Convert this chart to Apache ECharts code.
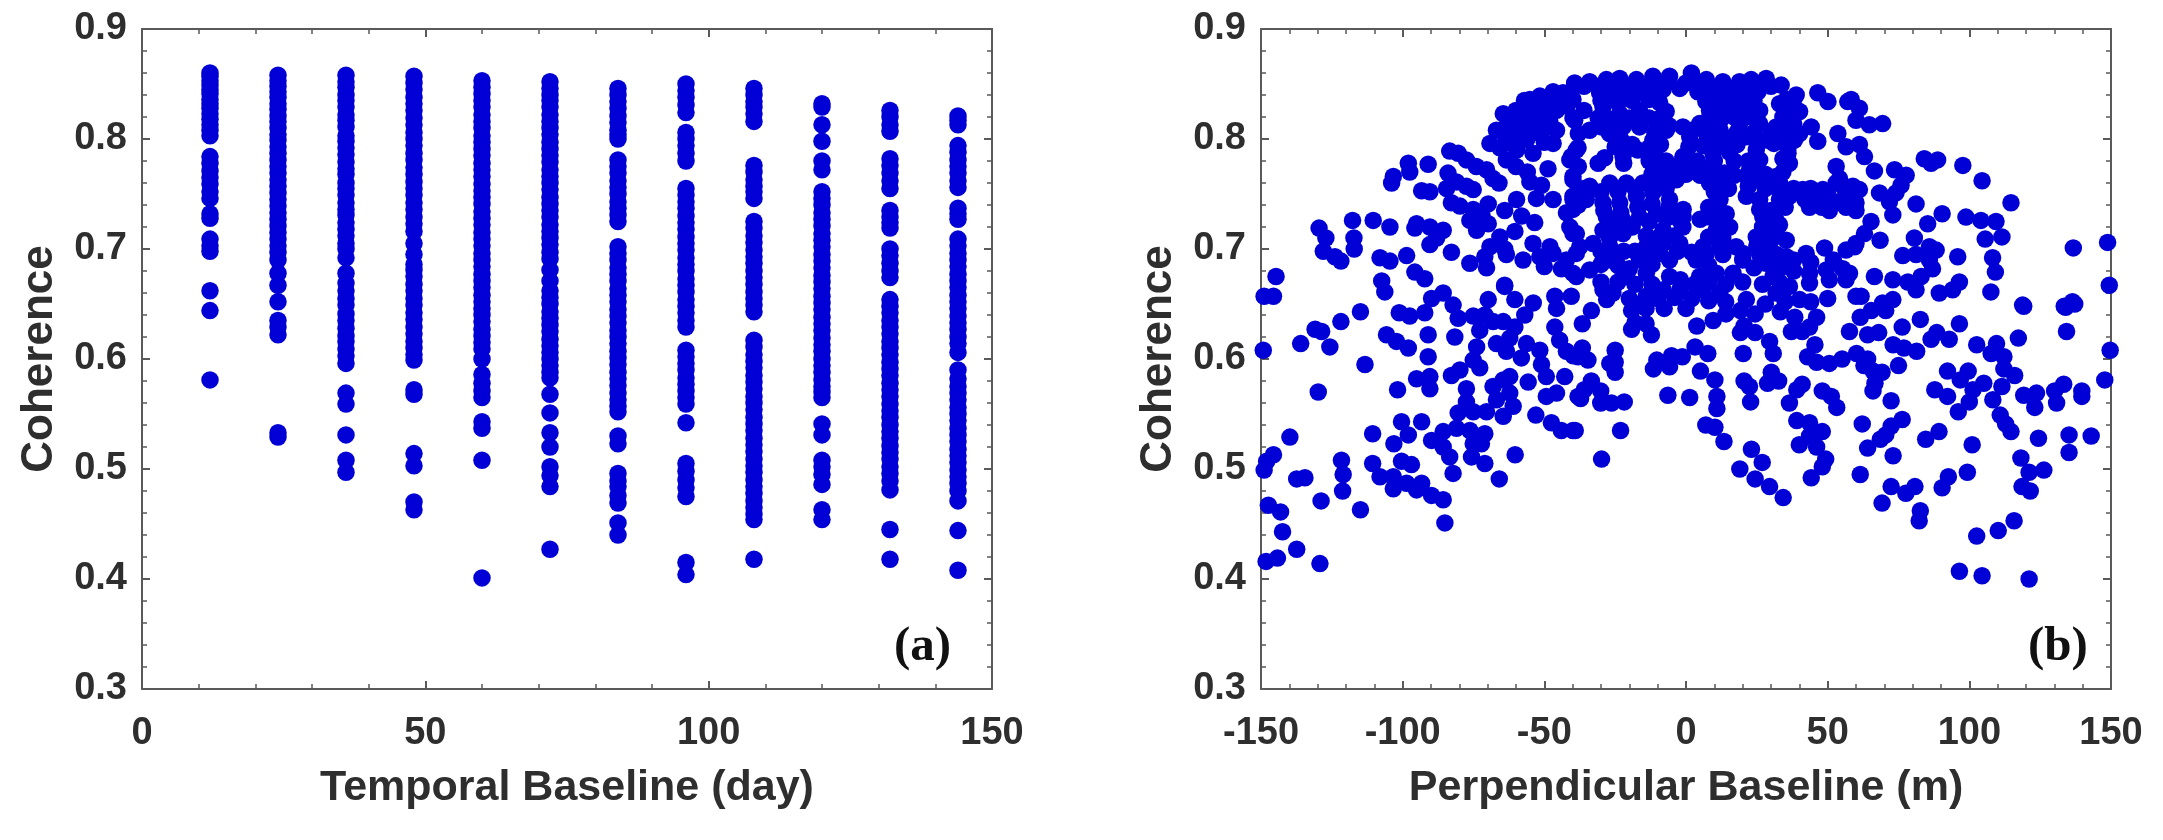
<!DOCTYPE html>
<html>
  <head>
  <meta charset="utf-8">
  <script type="text/javascript" src="https://cdn.jsdelivr.net/npm/echarts@6/dist/echarts.min.js"></script>
  <style>html,body{margin:0;padding:0;background:#fff}</style>
  </head>
 <body>
 <div id="main" style="width:2163px;height:840px;"></div>
 <script type="text/javascript">
// (a) coherence read per acquisition interval
var days = [12, 24, 36, 48, 60, 72, 84, 96, 108, 120, 132, 144];
var coh12 = [.860,.857,.853,.849,.845,.841,.836,.832,.828,.823,.818,.813,.808,.803,.784,.778,.771,.765,.759,.752,.746,.732,.728,.709,.703,.698,.662,.644,.581];
var coh24 = [.858,.853,.848,.843,.838,.832,.827,.821,.816,.810,.804,.799,.793,.787,.781,.775,.769,.763,.757,.751,.745,.739,.733,.727,.721,.715,.709,.703,.697,.690,.678,.667,.652,.635,.629,.622,.533,.529];
var coh36 = [.858,.852,.847,.840,.835,.829,.822,.817,.811,.803,.798,.792,.786,.779,.773,.768,.760,.755,.749,.742,.736,.731,.724,.718,.712,.705,.700,.692,.678,.669,.662,.655,.649,.641,.635,.628,.621,.616,.609,.603,.596,.569,.559,.531,.508,.497];
var coh48 = [.857,.851,.845,.838,.832,.826,.819,.813,.806,.800,.794,.787,.781,.774,.768,.761,.755,.749,.742,.736,.729,.723,.716,.705,.695,.686,.681,.675,.668,.662,.655,.649,.642,.636,.629,.623,.616,.610,.604,.599,.572,.568,.514,.503,.470,.463];
var coh60 = [.853,.847,.841,.835,.829,.822,.816,.810,.803,.797,.791,.785,.778,.772,.766,.759,.753,.747,.741,.734,.728,.722,.715,.709,.703,.696,.690,.684,.677,.671,.665,.658,.652,.646,.640,.634,.627,.621,.615,.609,.600,.586,.578,.571,.565,.543,.537,.508,.401];
var coh72 = [.852,.846,.840,.835,.829,.822,.816,.810,.804,.797,.791,.785,.779,.772,.766,.760,.754,.747,.741,.735,.729,.722,.716,.710,.704,.697,.691,.681,.671,.662,.656,.650,.643,.637,.631,.625,.618,.612,.606,.600,.594,.588,.583,.568,.551,.533,.520,.502,.494,.484,.427];
var coh84 = [.846,.840,.834,.828,.821,.815,.808,.804,.800,.781,.775,.769,.762,.756,.750,.743,.737,.731,.725,.702,.696,.690,.683,.677,.671,.664,.658,.652,.645,.639,.633,.626,.620,.614,.607,.601,.595,.588,.582,.576,.569,.563,.557,.552,.530,.523,.496,.489,.484,.476,.469,.451,.440];
var coh96 = [.850,.844,.838,.831,.824,.806,.800,.794,.787,.780,.755,.749,.743,.737,.730,.724,.718,.711,.705,.699,.692,.686,.680,.673,.667,.661,.654,.648,.642,.635,.629,.608,.602,.596,.590,.583,.577,.571,.565,.559,.542,.505,.498,.490,.483,.475,.415,.404];
var coh108 = [.846,.840,.834,.829,.823,.816,.776,.770,.763,.757,.752,.746,.725,.719,.712,.706,.699,.693,.687,.680,.674,.668,.661,.655,.649,.643,.617,.611,.604,.598,.592,.585,.579,.573,.566,.560,.554,.547,.541,.535,.528,.522,.516,.509,.503,.497,.490,.484,.478,.471,.465,.459,.454,.418];
var coh120 = [.832,.829,.813,.798,.780,.772,.752,.746,.740,.733,.727,.721,.714,.708,.702,.695,.689,.683,.676,.670,.664,.657,.651,.645,.638,.632,.626,.619,.613,.607,.600,.594,.588,.581,.575,.570,.565,.541,.531,.508,.502,.495,.486,.463,.454];
var coh132 = [.826,.820,.813,.807,.782,.776,.769,.762,.755,.735,.729,.724,.719,.700,.694,.687,.680,.674,.654,.648,.642,.635,.629,.623,.616,.610,.604,.597,.591,.585,.578,.572,.566,.559,.553,.547,.540,.534,.528,.521,.515,.509,.502,.496,.489,.481,.445,.418];
var coh144 = [.821,.817,.813,.794,.788,.781,.775,.769,.762,.756,.737,.732,.727,.709,.703,.696,.690,.684,.677,.671,.665,.658,.652,.646,.639,.633,.627,.620,.614,.606,.590,.582,.575,.569,.563,.556,.550,.544,.537,.531,.525,.518,.512,.506,.499,.493,.487,.480,.471,.444,.408];
var tempCoh = [coh12, coh24, coh36, coh48, coh60, coh72, coh84, coh96, coh108, coh120, coh132, coh144];

// (b) [perpendicular baseline, coherence], left flank
var perpLeftUpper = [[-144.7,.675],[-129.5,.719],[-127.1,.710],[-128,.698],[-123.9,.693],[-121.8,.689],[-117.7,.726],[-110.4,.726],[-104.5,.720],[-117.2,.710],[-117.1,.700],[-98.6,.694],[-108,.692],[-104.5,.689],[-95.7,.679],[-92.2,.673],[-107.4,.671],[-82.8,.697],[-95.1,.723],[-95.7,.719],[-90.4,.720],[-85.7,.717],[-88,.710],[-90.4,.704],[-98,.778],[-97.5,.770],[-91,.777],[-103.3,.766],[-103.9,.760],[-93.3,.753],[-90.4,.752],[-83.4,.789],[-80.4,.787],[-77.5,.781],[-74,.775],[-70.4,.772],[-68.1,.764],[-69.2,.796],[-84,.769],[-81,.761],[-84.5,.755],[-77.5,.757],[-75.1,.754],[-82.8,.742],[-79.8,.739],[-75.1,.736],[-69.8,.741],[-76.3,.726],[-73.9,.717],[-69.8,.723],[-59.8,.745],[-53.4,.724],[-60.4,.716],[-65.7,.711],[-69.2,.702],[-71,.693],[-76.3,.687],[-70.4,.683],[-54,.705],[-63.4,.695],[-57.5,.690],[-51.6,.693],[-46.9,.696],[-42.2,.690],[-39.9,.678],[-64,.667],[-55.1,.761],[-51,.758],[-52.8,.746],[-46.9,.745],[-48.7,.773],[-64.5,.823],[-66.9,.808],[-63.4,.799],[-59.8,.790],[-56.3,.799],[-54,.787],[-63.4,.781],[-65.7,.792],[-55.1,.836],[-51.6,.839],[-46.9,.843],[-43.4,.842],[-39.3,.851],[-39.9,.819],[-59.8,.814],[-54,.823],[-49.3,.823],[-45.7,.808],[-46.9,.796],[-51.6,.805],[-38.7,.790],[-41,.781],[-39.9,.766],[-39.9,.736],[-41,.720],[-38.7,.714],[-39.9,.745],[-42.2,.733],[-38.7,.696],[-57.5,.826],[-51.6,.820],[-57.5,.808],[-49.3,.811],[-63.4,.811],[-45.7,.826],[-59.8,.799],
[-60,.826],[-57,.835],[-60,.805],[-54,.810],[-50,.830],[-46,.835],[-42,.830],[-56,.816],[-48,.815],[-50,.797],[-60,.775],[-56,.770],[-72,.730],[-64,.735],[-58,.730],[-64,.700],[-48,.702],[-44,.682],[-50,.684],[-66,.760]];
var perpLeftLower = [[-148.9,.657],[-145.6,.657],[-149.2,.608],[-136,.614],[-130.9,.627],[-128.6,.625],[-125.7,.611],[-121.8,.634],[-114.9,.643],[-113.3,.595],[-129.8,.570],[-139.8,.529],[-145.6,.513],[-148,.507],[-148.9,.499],[-110.6,.532],[-121.6,.508],[-121,.495],[-121.2,.480],[-137.4,.491],[-134.5,.492],[-128.8,.471],[-147.4,.467],[-143.1,.461],[-142.4,.443],[-137.4,.427],[-129.2,.414],[-148.2,.416],[-144.2,.419],[-114.9,.463],[-110.6,.505],[-108,.493],[-103.1,.523],[-100.4,.543],[-98,.531],[-93.3,.543],[-89.8,.526],[-85.7,.534],[-81,.537],[-76.3,.535],[-71,.532],[-85.7,.520],[-83.4,.511],[-75.1,.523],[-72.2,.523],[-82.2,.496],[-75.7,.511],[-71,.505],[-65.9,.491],[-60.3,.513],[-100.4,.507],[-96.9,.504],[-103.3,.493],[-103.3,.482],[-98.6,.487],[-93.3,.487],[-95.1,.481],[-89.8,.476],[-85.7,.472],[-85.1,.451],[-105.7,.622],[-102.2,.616],[-98,.610],[-91,.602],[-95.1,.582],[-90.4,.584],[-90.4,.573],[-101.8,.572],[-101.2,.642],[-97.5,.639],[-106.3,.661],[-81.6,.620],[-91,.622],[-92.2,.642],[-89.8,.655],[-85.7,.660],[-82.2,.649],[-80.4,.637],[-75.1,.639],[-69.8,.654],[-71,.640],[-64,.666],[-60.4,.654],[-53.9,.651],[-56.9,.640],[-60.4,.629],[-64.5,.634],[-68.1,.634],[-72.8,.626],[-73.9,.611],[-66.9,.614],[-62.2,.619],[-63.4,.607],[-58.1,.601],[-56.3,.614],[-51.6,.608],[-51,.595],[-72.8,.592],[-75.1,.599],[-79.8,.590],[-82.8,.585],[-77.5,.573],[-77.5,.561],[-80.4,.551],[-75.1,.552],[-70.4,.552],[-64.5,.548],[-61,.557],[-62.2,.569],[-64.5,.581],[-68.1,.575],[-62.2,.584],[-66.9,.563],[-55.7,.579],[-49.3,.584],[-42.8,.584],[-49.3,.566],[-45.7,.569],[-53,.549],[-47.5,.542],[-44,.535],[-39.9,.535],[-46.3,.657],[-40.5,.657],[-45.7,.646],[-46.3,.629],[-44.6,.617],[-42.2,.607],[-38.1,.602],[-38.1,.566]];
// (b) centre of the arch
var perpCentre = [[-39.3,.849],[-34,.852],[-28.1,.854],[-23.4,.855],[-17.5,.854],[-11.7,.857],[-5.8,.857],[1.9,.860],[7.2,.854],[13,.852],[18.9,.852],[23,.854],[28.3,.855],[33.6,.849],[38.9,.840],[46.5,.842],[50.1,.834],[57.1,.834],
[-39.9,.836],[-30.5,.842],[-25.8,.840],[-21,.842],[-15.8,.843],[-8.1,.845],[-2.2,.846],[4.2,.843],[9.5,.840],[14.2,.840],[21.3,.840],[25.4,.843],[35.4,.836],[40.1,.825],
[-29.3,.829],[-23.4,.823],[-16.4,.826],[-9.3,.833],[-7,.825],[8.3,.826],[13.6,.826],[20.7,.828],[26,.826],[34.2,.820],
[-39.3,.817],[-34,.808],[-29.9,.811],[-22.2,.811],[-16.4,.811],[-7,.808],[-1.1,.811],[4.8,.814],[11.9,.816],[18.9,.814],[26,.814],[31.8,.811],[44.2,.811],[40.1,.805],[38.3,.799],[46.5,.798],[53.6,.805],
[-22.8,.799],[-11.7,.799],[1.3,.802],[8.3,.799],[14.2,.801],[21.3,.802],[28.3,.799],[35.4,.805],[56.5,.793],
[-38.1,.792],[-40.5,.784],[-31,.778],[-28.7,.783],[-22.2,.784],[-17,.790],[-11.1,.785],[-1.1,.784],[9.5,.787],[15.4,.788],[24.8,.790],
[-10.5,.775],[.1,.775],[8.3,.772],[13.6,.769],[22.4,.772],[34.2,.782],[34.2,.770],[36.5,.778],[53,.775],[54.2,.764],
[-39.9,.763],[-34,.757],[-26.9,.760],[-21,.760],[-15.2,.760],[-9.3,.763],[-3.4,.763],[8.3,.760],[11.9,.760],[21.3,.766],[26,.763],[31.8,.766],[41.2,.754],[48.3,.754],[53,.760],[58.9,.757],
[-39.9,.748],[-35.2,.745],[-29.3,.742],[-23.4,.742],[-17.5,.748],[-11.7,.751],[-5.8,.745],[10.7,.739],[14.2,.732],[21.3,.748],[26,.745],[33,.745],[36.5,.748],[44.8,.748],[48.3,.745],[56.5,.748],[60,.742],
[-28.1,.729],[-22.2,.726],[-16.4,.729],[-10.5,.732],[-2.2,.726],[8.3,.729],[27.1,.729],[31.8,.726],[43.6,.738],[50.6,.735],[56.5,.738],
[-39.9,.714],[-29.3,.717],[-22.2,.714],[-8.1,.717],[-1.1,.720],[10.7,.717],[15.4,.720],[24.8,.711],[31.8,.717],[35.4,.708],
[-37.5,.702],[-32.8,.705],[-26.9,.702],[-14,.702],[-8.1,.705],[-2.2,.705],[6,.702],[11.9,.702],[17.7,.702],[29.5,.699],[35.4,.693],[42.4,.696],[48.9,.701],[56.5,.699],[60,.705],
[-26.3,.690],[-16.4,.690],[-9.3,.696],[-5.8,.690],[3.6,.690],[20.1,.696],[28.3,.687],[34.2,.684],[43.6,.678],[49.5,.681],[55.3,.682],
[-38.7,.675],[-34,.681],[-21,.675],[-14,.678],[-5.8,.675],[4.8,.675],[10.7,.678],[16.6,.678],[30.7,.675],[43.6,.669],[50.6,.672],[56.5,.672],
[-29.3,.663],[-25.8,.660],[-14,.657],[-8.1,.663],[-2.2,.663],[6,.663],[11.9,.660],[21.3,.654],[31.8,.660],[36.5,.666],[40.1,.654],[60,.657]];
// (b) the solid parts of the arch, points lying between the ones above
var perpCentreDense = [[-36,.848],[-31,.848],[-25,.848],[-19,.848],[-13,.848],[-7,.851],[0,.851],[5,.849],[11,.846],[16,.846],[24,.848],[30,.848],
[-30,.835],[-24,.833],[-19,.835],[-13,.836],[-10,.838],[7,.834],[12,.833],[18,.834],[24,.835],[33,.832],[38,.830],
[-36,.826],[-31,.819],[-26,.818],[-20,.819],[-13,.819],[-10,.818],[8,.818],[12,.820],[17,.820],[23,.820],[35,.818],[38,.814],
[-38,.805],[-27,.805],[-24,.803],[-11,.806],[-6,.812],[2,.808],[7,.806],[12,.808],[18,.806],[24,.806],[30,.805],[36,.812],
[-25,.793],[-19,.795],[-13,.792],[-9,.795],[1,.793],[6,.794],[12,.793],[18,.795],[25,.797],[31,.796],[36,.792],
[-38,.775],[-22,.778],[-13,.780],[-7,.780],[-2,.777],[4,.780],[10,.780],[17,.780],[22,.780],[26,.781],[36,.787],
[-12,.768],[-6,.770],[0,.768],[5,.767],[11,.768],[17,.767],[24,.770],[28,.768],[33,.760],
[-36,.755],[-30,.752],[-24,.752],[-18,.755],[-12,.757],[-7,.755],[10,.752],[15,.755],[22,.757],[28,.755],[33,.753],[38,.755],[44,.755],[50,.750],[56,.755],
[-38,.740],[-29,.735],[-23,.733],[-17,.738],[-12,.741],[-6,.738],[-1,.736],[8,.738],[12,.745],[26,.736],[30,.735],[35,.738],[42,.745],[48,.738],[54,.743],[60,.735],
[-25,.722],[-19,.720],[-13,.725],[-7,.728],[-1,.729],[5,.727],[11,.728],[27,.720],[33,.722],
[-27,.710],[-14,.712],[-10,.710],[-4,.712],[8,.711],[13,.710],[25,.703],[30,.708],
[-30,.698],[-22,.698],[-18,.698],[-12,.695],[-3,.698],[2,.697],[7,.695],[13,.695],[20,.690],[26,.695],[32,.695],[38,.690],[44,.688],
[-30,.686],[-24,.685],[-20,.682],[-12,.686],[8,.685],[24,.683],[31,.683],[38,.680],[52,.690],
[-30,.670],[-24,.670],[-18,.668],[-12,.668],[-2,.672],[3,.668],[8,.670],[14,.668],[20,.670],[27,.668],[33,.670],
[-28,.654],[-20,.655],[-16,.650],[-10,.655],[-4,.656],[2,.655],[8,.653],[14,.652],[28,.650],[35,.652],[44,.652],[50,.655]];
// (b) right flank
var perpRightUpper = [[58.3,.836],[61.2,.828],[60,.817],[64.7,.813],[69.4,.814],[61.2,.795],[63,.784],[66.5,.771],[73.6,.772],[77.7,.767],[75.9,.758],[74.1,.751],[68.3,.751],[71.8,.743],[73,.731],[61.2,.754],[59.5,.743],[81.2,.741],[90.4,.732],[85.3,.723],[98.8,.729],[104.1,.726],[109.4,.725],[105.6,.709],[111.5,.711],[114.7,.742],[104.5,.762],[97.7,.776],[84.1,.782],[86.5,.778],[88.8,.781],[68.5,.708],[80.6,.710],[65.3,.725],[63,.714],[59.5,.702],[76.5,.694],[81.2,.695],[85.9,.702],[88.3,.699],[85.9,.690],[87,.682],[83,.675],[95.9,.693],[108.2,.692],[109.2,.679],[107.6,.661],[148.8,.706],[136.7,.701],[149.4,.667],[118.8,.649],[136.4,.652],[133.5,.648],[96.5,.670],[94.1,.663],[89.4,.660],[66.5,.675],[73,.672],[78.3,.670],[81.2,.663],[61.8,.657],[69.4,.651],[73,.654],[57.7,.678]];
var perpLower = [[-36.6,.632],[-19.2,.627],[-14.1,.632],[-12.2,.622],[-33.4,.644],[-19.2,.644],[-14.1,.646],[-7.7,.646],[0,.646],[-18,.633],[3.8,.630],[9.6,.635],[14.1,.641],[19.2,.644],[24.4,.641],[20.5,.630],[24.4,.624],[19.2,.624],[33.3,.643],[38.4,.638],[41,.625],[46.1,.638],[37.2,.625],[43.6,.629],[65.4,.644],[70.5,.644],[61.5,.638],[57.7,.625],[64.1,.622],[68,.624],[76.3,.629],[82.7,.636],[96.5,.632],[88.5,.624],[86.5,.618],[92.9,.618],[102.6,.613],[109.6,.614],[117.3,.619],[107.7,.605],[112.2,.602],[112.2,.591],[116,.585],[119.2,.648],[134.3,.625],[134,.647],[137.2,.650],
[-36.6,.610],[-34.6,.599],[-25,.608],[-25,.597],[-26.9,.596],[-25,.588],[-39.8,.603],[3.2,.611],[7.7,.605],[-5.1,.603],[-1.3,.602],[-10.3,.599],[-11.5,.591],[-5.8,.593],[5.1,.589],[10.2,.581],[20.2,.605],[29.5,.616],[30.8,.605],[20.5,.580],[22.4,.575],[30.1,.588],[28.8,.578],[32.7,.580],[45.5,.613],[42.9,.602],[46.1,.597],[50.6,.596],[55.1,.600],[60.2,.605],[64.1,.600],[62.8,.594],[66,.589],[69.2,.588],[73.1,.613],[76.9,.610],[81.4,.607],[75,.594],[66.7,.578],[66,.571],[72.4,.562],[41,.577],[39.1,.572],[36.5,.560],[48.1,.571],[51.3,.566],[53.2,.556],
[-33.4,.580],[-35.9,.572],[-37.2,.564],[-30.1,.571],[-30.1,.560],[-26.3,.560],[-21.8,.561],[-6.4,.567],[1.3,.565],[10.9,.566],[10.9,.555],[22.8,.561],[92.3,.589],[99.6,.589],[96.8,.581],[105.1,.578],[87.8,.572],[92.3,.566],[101.3,.572],[100,.561],[96.1,.552],[111.5,.575],[108.3,.563],[119.2,.567],[123.7,.569],[123.1,.556],[130.1,.571],[133.3,.577],[130.8,.560],[139.7,.571],[139.7,.566],[147.8,.581],[149.7,.608],[110.9,.549],[112.8,.541],[114.7,.534],
[7,.540],[10.2,.538],[13.4,.525],[-39.1,.535],[-23.1,.535],[-29.8,.509],[39.1,.544],[43.6,.542],[48.1,.534],[43.6,.530],[40,.522],[46.1,.520],[49.3,.509],[48.1,.502],[44.2,.492],[62.2,.541],[76.3,.545],[72.4,.539],[70.5,.531],[68.6,.527],[64.1,.519],[73.1,.512],[61.5,.495],[89.3,.534],[84.6,.527],[101,.522],[124.4,.528],[135.2,.531],[143,.530],[135.2,.515],[23.1,.518],[26.9,.506],[19,.500],[24.4,.491],[29.5,.484],[34.3,.474],[118.2,.510],[126.3,.499],[121.1,.497],[118.6,.484],[121.5,.480],[99.3,.497],[92.6,.493],[90.4,.483],[72.4,.484],[77.6,.478],[80.8,.484],[69.2,.469],[82.7,.462],[82.3,.453],[102.6,.439],[110.2,.444],[115.8,.453],[96.5,.407],[104.5,.403],[121.1,.400]];
var perpPoints = perpLeftUpper.concat(perpLeftLower, perpCentre, perpCentreDense, perpRightUpper, perpLower);

var xTicksA = [0, 50, 100, 150];
var xTicksB = [-150, 150];
var yRange = [0.3, 0.9];

var tempPoints = [];
days.forEach(function (d, i) {
    tempCoh[i].forEach(function (c) { tempPoints.push([d, c]); });
});

var blue = '#0000d6';
var textColor = '#2e2e2e';
var frameColor = '#5a5a5a';
var labelFont = 'Liberation Sans';

// one axis of a frame, the mirrored side has only ticks
function makeAxis(opt) {
    var base = {
        gridIndex: opt.grid,
        type: 'value',
        min: opt.min,
        max: opt.max,
        interval: opt.interval,
        position: opt.position,
        splitLine: { show: false },
        axisLine: { show: true, onZero: false, lineStyle: { color: frameColor, width: 2 } },
        axisTick: { show: true, inside: true, length: 8, lineStyle: { color: frameColor, width: 2 } },
        minorTick: { show: true, splitNumber: 5, length: 5, lineStyle: { color: frameColor, width: 1.5 } },
        axisLabel: { show: !opt.mirror, margin: opt.margin, color: textColor, fontFamily: labelFont, fontWeight: 'bold', fontSize: 38, formatter: opt.formatter },
        silent: true
    };
    if (opt.name) {
        base.name = opt.name;
        base.nameLocation = 'middle';
        base.nameGap = opt.nameGap;
        base.nameTextStyle = { color: textColor, fontFamily: labelFont, fontWeight: 'bold', fontSize: opt.nameSize };
    }
    return base;
}
function yFmt(v) { return v.toFixed(1); }

var myChart = echarts.init(document.getElementById('main'));
myChart.setOption({
    animation: false,
    backgroundColor: '#ffffff',
    title: [
        { text: '(a)', left: 889, top: 618, textStyle: { fontFamily: 'Liberation Serif', fontWeight: 'bold', fontSize: 49, color: '#111111' } },
        { text: '(b)', left: 2023, top: 618, textStyle: { fontFamily: 'Liberation Serif', fontWeight: 'bold', fontSize: 49, color: '#111111' } }
    ],
    grid: [
        { left: 142, top: 29, width: 850, height: 660 },
        { left: 1261, top: 29, width: 850, height: 660 }
    ],
    xAxis: [
        makeAxis({ grid: 0, min: xTicksA[0], max: xTicksA[3], interval: 50, position: 'bottom', margin: 26, name: 'Temporal Baseline (day)', nameGap: 78, nameSize: 43 }),
        makeAxis({ grid: 0, min: xTicksA[0], max: xTicksA[3], interval: 50, position: 'top', mirror: true }),
        makeAxis({ grid: 1, min: xTicksB[0], max: xTicksB[1], interval: 50, position: 'bottom', margin: 26, name: 'Perpendicular Baseline (m)', nameGap: 78, nameSize: 43 }),
        makeAxis({ grid: 1, min: xTicksB[0], max: xTicksB[1], interval: 50, position: 'top', mirror: true })
    ],
    yAxis: [
        makeAxis({ grid: 0, min: yRange[0], max: yRange[1], interval: 0.1, position: 'left', margin: 15, formatter: yFmt, name: 'Coherence', nameGap: 80, nameSize: 44 }),
        makeAxis({ grid: 0, min: yRange[0], max: yRange[1], interval: 0.1, position: 'right', mirror: true }),
        makeAxis({ grid: 1, min: yRange[0], max: yRange[1], interval: 0.1, position: 'left', margin: 15, formatter: yFmt, name: 'Coherence', nameGap: 80, nameSize: 44 }),
        makeAxis({ grid: 1, min: yRange[0], max: yRange[1], interval: 0.1, position: 'right', mirror: true })
    ],
    series: [
        { type: 'scatter', xAxisIndex: 0, yAxisIndex: 0, data: tempPoints, symbolSize: 17.5, clip: false, itemStyle: { color: blue, opacity: 1 }, large: false },
        { type: 'scatter', xAxisIndex: 2, yAxisIndex: 2, data: perpPoints, symbolSize: 17.5, clip: false, itemStyle: { color: blue, opacity: 1 }, large: false }
    ]
});
 </script>
 </body>
</html>
